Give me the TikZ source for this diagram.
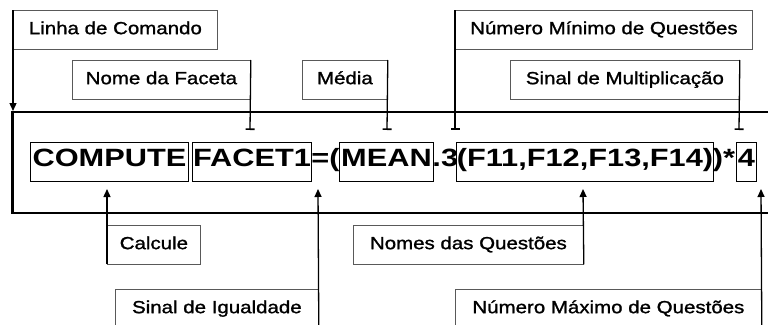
\documentclass[tikz,border=0pt]{standalone}
\usepackage{fontspec}
\usetikzlibrary{arrows.meta}
\newfontfamily\labfont[FakeStretch=1.17,FakeBold=1.3]{Liberation Sans}
\newfontfamily\frmfont[FakeStretch=1.23]{Liberation Sans}
\begin{document}
\begin{tikzpicture}[x=1pt,y=-1pt,
 lbl/.style={draw=black!65, line width=0.8pt, inner sep=0pt, minimum height=38.5pt, anchor=north west, font=\labfont\fontsize{17.5}{20}\selectfont, text height=12.5pt, text depth=3.5pt},
 fbox/.style={draw=black, line width=0.9pt, inner sep=0pt, minimum height=39pt, anchor=west, font=\frmfont\bfseries\fontsize{25}{28}\selectfont, text height=18pt, text depth=9pt},
 ftxt/.style={fbox, draw=none},
 tee/.style={line width=1.3pt, -{Bar[width=9pt,line width=1.6pt]}},
 arr/.style={line width=1.3pt, -{Triangle[length=8pt,width=7pt]}},
 frame/.style={line width=2.8pt}
]
\useasboundingbox (0,0) rectangle (768,324);
% label boxes
\node[lbl, minimum width=204pt] (lc) at (13,10) {Linha de Comando};
\node[lbl, minimum width=178pt] (nf) at (72,60) {Nome da Faceta};
\node[lbl, minimum width=85pt] (md) at (302,60) {Média};
\node[lbl, minimum width=297pt] (nmin) at (455,10) {Número Mínimo de Questões};
\node[lbl, minimum width=229pt] (sm) at (510,60) {Sinal de Multiplicação};
\node[lbl, minimum width=93pt] (cal) at (107,225) {Calcule};
\node[lbl, minimum width=203pt] (si) at (115,289) {Sinal de Igualdade};
\node[lbl, minimum width=230pt] (nq) at (353,225) {Nomes das Questões};
\node[lbl, minimum width=306pt] (nmax) at (455,289) {Número Máximo de Questões};
% formula
\node[fbox, minimum width=158pt] (cmp) at (30,161.5) {COMPUTE};
\node[fbox, minimum width=119pt] (fac) at (192,161.5) {FACET1};
\node[ftxt] (eq) at (311,161.5) {=(};
\node[fbox, minimum width=94pt] (mean) at (339,161.5) {MEAN};
\node[ftxt] (dot) at (432,161.5) {.3};
\node[fbox, minimum width=257pt] (qs) at (456,161.5) {(F11,F12,F13,F14)};
\node[ftxt] (cl) at (712.5,161.5) {)*};
\node[fbox, minimum width=20pt] (four) at (736,161.5) {4};
% frame
\coordinate (fa) at (772,112);
\coordinate (fb) at (12.5,112);
\coordinate (fc) at (12.5,213);
\coordinate (fd) at (772,213);
\draw[frame] (fa) -- (fb) -- (fc) -- (fd);
% connectors
\coordinate (lcE) at (13,111);
\draw[arr] (lc.north west) -- (lcE);
\coordinate (nfE) at (250,130);
\draw[tee] (nf.north east) -- (nfE);
\coordinate (mdE) at (387,130);
\draw[tee] (md.north east) -- (mdE);
\coordinate (nminE) at (455,130);
\draw[tee] (nmin.north west) -- (nminE);
\coordinate (smE) at (739,130);
\draw[tee] (sm.north east) -- (smE);
\coordinate (calE) at (107,189);
\draw[arr] (cal.south west) -- (calE);
\coordinate (siE) at (318,189);
\draw[arr] (si.south east) -- (siE);
\coordinate (nqE) at (583,189);
\draw[arr] (nq.south east) -- (nqE);
\coordinate (nmaxE) at (761,189);
\draw[arr] (nmax.south east) -- (nmaxE);
\end{tikzpicture}
\end{document}
